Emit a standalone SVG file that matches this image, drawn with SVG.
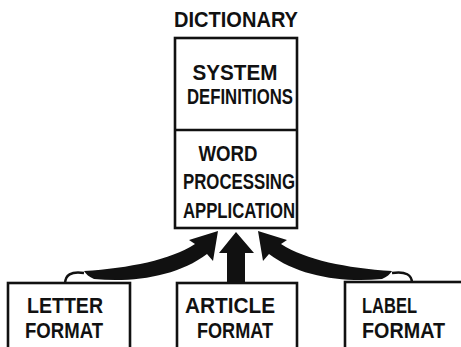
<svg xmlns="http://www.w3.org/2000/svg" width="461" height="347" viewBox="0 0 461 347">
<style>
.box{fill:#fff;stroke:#111;stroke-width:2.6}
.t{font-family:"Liberation Sans",Arial,sans-serif;font-weight:bold;fill:#111;font-size:22px}
.arr{fill:#111;stroke:none}
.hook{fill:none;stroke:#111;stroke-width:2.5}
</style>
<rect width="461" height="347" fill="#fff"/>
<g id="dictionary">
<text class="t" x="236" y="27" text-anchor="middle" font-size="21" textLength="124" lengthAdjust="spacingAndGlyphs">DICTIONARY</text>
<rect class="box" x="175" y="38" width="122" height="190"/>
</g>
<g id="system-definitions">
<line x1="175" y1="130" x2="297" y2="130" stroke="#111" stroke-width="2.6"/>
<text class="t" x="235" y="80" text-anchor="middle" font-size="21" textLength="85" lengthAdjust="spacingAndGlyphs">SYSTEM</text>
<text class="t" x="240" y="104" text-anchor="middle" font-size="21" textLength="106" lengthAdjust="spacingAndGlyphs">DEFINITIONS</text>
</g>
<g id="word-processing">
<text class="t" x="228" y="161" text-anchor="middle" textLength="59" lengthAdjust="spacingAndGlyphs">WORD</text>
<text class="t" x="239" y="189" text-anchor="middle" textLength="112" lengthAdjust="spacingAndGlyphs">PROCESSING</text>
<text class="t" x="239" y="218" text-anchor="middle" textLength="112" lengthAdjust="spacingAndGlyphs">APPLICATION</text>
</g>
<g id="letter-format">
<rect class="box" x="8" y="283" width="122" height="80"/>
<text class="t" x="65" y="313" text-anchor="middle" textLength="76" lengthAdjust="spacingAndGlyphs">LETTER</text>
<text class="t" x="64" y="338" text-anchor="middle" textLength="78" lengthAdjust="spacingAndGlyphs">FORMAT</text>
</g>
<g id="article-format">
<rect class="box" x="177" y="283" width="120" height="80"/>
<text class="t" x="230" y="313" text-anchor="middle" textLength="90" lengthAdjust="spacingAndGlyphs">ARTICLE</text>
<text class="t" x="235" y="338" text-anchor="middle" textLength="76" lengthAdjust="spacingAndGlyphs">FORMAT</text>
</g>
<g id="label-format">
<rect class="box" x="345" y="282" width="130" height="80"/>
<text class="t" x="362" y="313" textLength="55" lengthAdjust="spacingAndGlyphs">LABEL</text>
<text class="t" x="362" y="338" textLength="83" lengthAdjust="spacingAndGlyphs">FORMAT</text>
</g>
<g id="connectors">
<path class="arr" d="M236 232 L254 253 L245 253 L245 283 L227 283 L227 253 L219 253 Z"/>
<path class="arr" d="M84 271 C130 268 170 260 195 244 L189 240 L218 231 L213 261 L207 254 C178 276 134 283 94 279 C89 277 86 274 84 271 Z"/>
<path class="hook" d="M65 284 C65 275 71 271 84 273"/>
<path class="arr" d="M392 271 C346 268 306 260 281 244 L287 240 L258 231 L263 261 L269 254 C298 276 342 283 382 279 C387 277 390 274 392 271 Z"/>
<path class="hook" d="M412 283 C412 275 406 271 392 273"/>
</g>
</svg>
